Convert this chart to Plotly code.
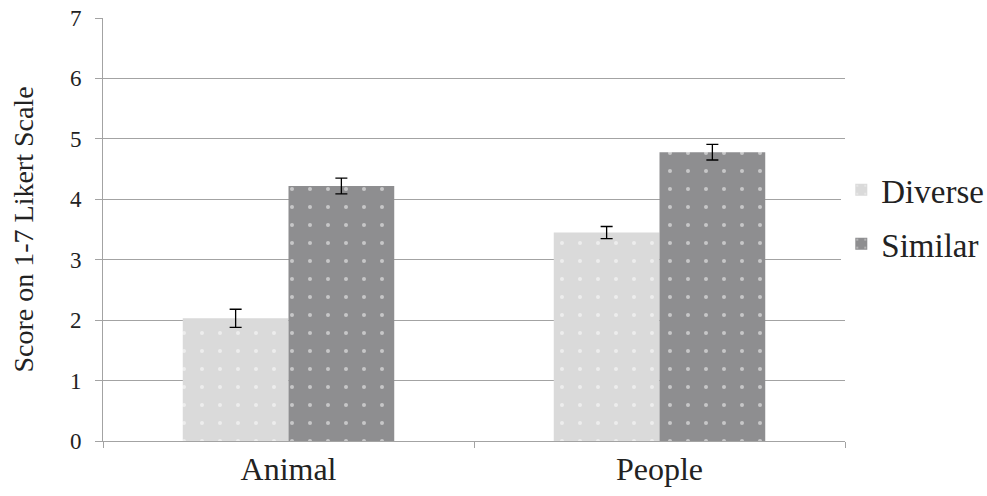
import plotly.graph_objects as go

categories = ["Animal", "People"]
diverse = [2.03, 3.45]
diverse_err = [0.15, 0.10]
similar = [4.22, 4.78]
similar_err = [0.13, 0.13]
y_ticks = [0, 1, 2, 3, 4, 5, 6, 7]

font_family = "Liberation Serif, Times New Roman, serif"

fig = go.Figure()
fig.add_trace(go.Bar(
    name="Diverse", x=categories, y=diverse, legendgroup="d",
    marker=dict(color="#dadada", line=dict(width=0),
                pattern=dict(shape=".", fgcolor="white", bgcolor="#dadada", size=18, solidity=0.04)),
    error_y=dict(type="data", array=diverse_err, color="black", thickness=1.3, width=6),
))
fig.add_trace(go.Bar(
    name="Similar", x=categories, y=similar, legendgroup="s",
    marker=dict(color="#8e8e90", line=dict(width=0),
                pattern=dict(shape=".", fgcolor="white", bgcolor="#8e8e90", size=18, solidity=0.04)),
    error_y=dict(type="data", array=similar_err, color="black", thickness=1.3, width=6),
))

fig.update_layout(
    width=987, height=496,
    margin=dict(l=103, r=142, t=18, b=55, autoexpand=False),
    paper_bgcolor="white", plot_bgcolor="white",
    barmode="group", bargap=0.43, bargroupgap=0,
    font=dict(family=font_family, color="#222222"),
    legend=dict(x=0.995, y=0.53, yanchor="middle", xanchor="left",
                font=dict(size=33, family=font_family, color="#222222"), traceorder="grouped",
                tracegroupgap=8, itemwidth=30),
    showlegend=True,
)
fig.update_xaxes(
    automargin=False,
    showline=True, linecolor="#a3a3a3", linewidth=1,
    ticks="outside", tickson="boundaries", ticklen=6, tickcolor="#a3a3a3",
    tickfont=dict(size=32, family=font_family, color="#222222"),
    showgrid=False,
)
fig.update_yaxes(
    automargin=False,
    range=[0, 7], tickvals=y_ticks, showgrid=True, gridcolor="#a3a3a3", gridwidth=1,
    showline=True, linecolor="#a3a3a3", linewidth=1,
    ticks="outside", ticklen=7, tickcolor="#a3a3a3", ticklabelstandoff=9,
    tickfont=dict(size=23, family=font_family, color="#222222"),
    title=dict(text="Score on 1-7 Likert Scale", standoff=28,
               font=dict(size=28, family=font_family, color="#222222")),
    zeroline=False,
)

fig.write_html("out.html", config={"displayModeBar": False},
               post_script="document.body.style.margin='0';")
